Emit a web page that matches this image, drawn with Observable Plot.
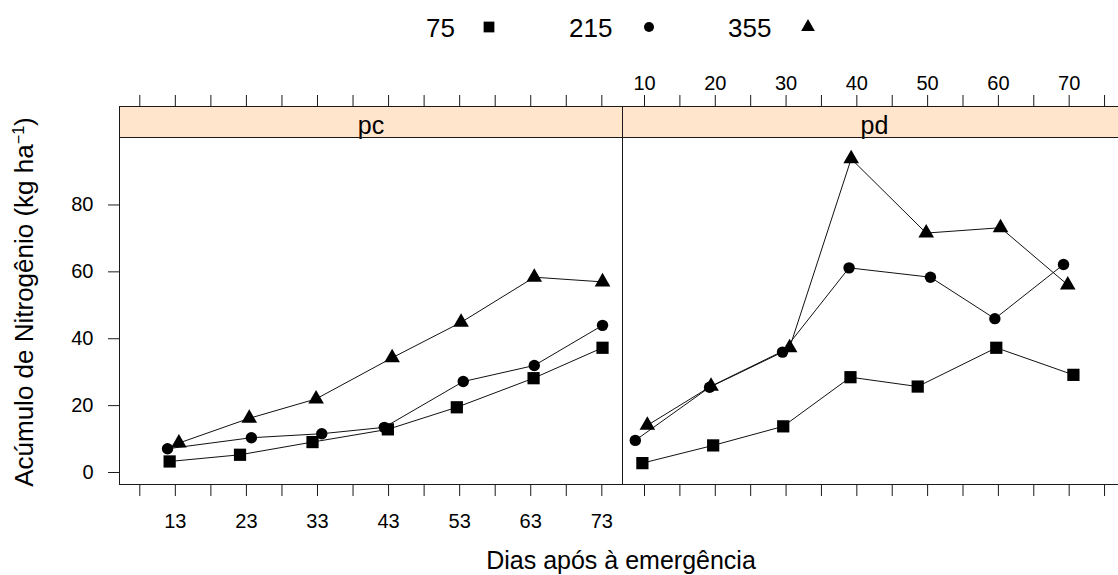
<!DOCTYPE html>
<html><head><meta charset="utf-8">
<script src="https://cdn.jsdelivr.net/npm/d3@7"></script>
<script src="https://cdn.jsdelivr.net/npm/@observablehq/plot@0.6"></script>
<style>
body{margin:0;background:#fff;font-family:"Liberation Sans",Arial,sans-serif;color:#000;}
#wrap{position:relative;width:1118px;height:575px;overflow:hidden;background:#fff;}
.abs{position:absolute;white-space:nowrap;}
.strip{position:absolute;top:106px;height:32px;background:#FFE5CC;border:1px solid #1a1a1a;box-sizing:border-box;font-size:25px;text-align:center;line-height:36px;}
.leg{position:absolute;top:15px;font-size:26px;line-height:26px;}
</style></head><body>
<div id="wrap"></div>
<script>
// ---- data ----
const panels = ["pc", "pd"];
const doses = ["75", "215", "355"];
const doseSymbols = ["square", "circle", "triangle"];

const pcDays75  = [12.2, 22.1, 32.3, 42.9, 52.6, 63.4, 73.1];
const pcDays215 = [11.9, 23.7, 33.6, 42.4, 53.5, 63.5, 73.1];
const pcDays355 = [13.5, 23.4, 32.8, 43.5, 53.2, 63.5, 73.1];
const pcN75  = [3.3, 5.3, 9.1, 12.9, 19.5, 28.2, 37.3];
const pcN215 = [7.1, 10.4, 11.6, 13.5, 27.2, 32.0, 44.0];
const pcN355 = [8.8, 16.2, 22.0, 34.3, 44.9, 58.4, 57.0];

const pdDays75  = [9.7, 19.7, 29.6, 39.1, 48.6, 59.7, 70.6];
const pdDays215 = [8.7, 19.2, 29.5, 38.9, 50.4, 59.5, 69.2];
const pdDays355 = [10.4, 19.4, 30.5, 39.2, 49.8, 60.3, 69.8];
const pdN75  = [2.8, 8.1, 13.8, 28.5, 25.7, 37.3, 29.2];
const pdN215 = [9.6, 25.5, 36.0, 61.2, 58.4, 46.0, 62.2];
const pdN355 = [14.1, 25.8, 37.3, 93.8, 71.6, 73.2, 56.1];

const pcTicks = [8, 13, 18, 23, 28, 33, 38, 43, 48, 53, 58, 63, 68, 73];
const pcTickLabels = [13, 23, 33, 43, 53, 63, 73];
const pdTicks = [10, 15, 20, 25, 30, 35, 40, 45, 50, 55, 60, 65, 70, 75];
const pdTickLabels = [10, 20, 30, 40, 50, 60, 70];
const yTicks = [0, 20, 40, 60, 80];

const xLabel = "Dias após à emergência";
const yLabelMain = "Acúmulo de Nitrogênio (kg ha";
const yLabelSup = "−1";

// ---- build rows ----
function rows(days, vals, dose) { return days.map((d, i) => ({day: d, n: vals[i], dose})); }
const pcRows = [...rows(pcDays75, pcN75, doses[0]), ...rows(pcDays215, pcN215, doses[1]), ...rows(pcDays355, pcN355, doses[2])];
const pdRows = [...rows(pdDays75, pdN75, doses[0]), ...rows(pdDays215, pdN215, doses[1]), ...rows(pdDays355, pdN355, doses[2])];

const symR = {square: 6.9, circle: 5.7, triangle: 5.8};
const font = '"Liberation Sans", Arial, sans-serif';
const yDomain = [-3.59, 100.18];

function seriesMarks(data) {
  const m = [Plot.line(data, {x: "day", y: "n", z: "dose", stroke: "#111", strokeWidth: 1})];
  doses.forEach((d, i) => {
    m.push(Plot.dot(data.filter(r => r.dose === d), {x: "day", y: "n", symbol: doseSymbols[i], r: symR[doseSymbols[i]], fill: "#000", stroke: "none"}));
  });
  return m;
}

const wrap = document.getElementById("wrap");

// strips
[[panels[0], 119, 504], [panels[1], 622, 505]].forEach(([name, left, w]) => {
  const s = document.createElement("div");
  s.className = "strip"; s.style.left = left + "px"; s.style.width = w + "px";
  s.textContent = name;
  wrap.appendChild(s);
});

// pc panel
const pc = Plot.plot({
  width: 623, height: 575,
  marginLeft: 119, marginRight: 1, marginTop: 137, marginBottom: 91,
  style: {fontSize: "20px", fontFamily: font, background: "transparent", color: "#000", overflow: "visible"},
  x: {domain: [5.144, 75.91], label: null},
  y: {domain: yDomain, label: null},
  marks: [
    Plot.axisY({ticks: yTicks, tickSize: 11, tickPadding: 15, label: null, stroke: "#1a1a1a"}),
    Plot.axisX({anchor: "bottom", ticks: pcTicks, tickSize: 12, tickPadding: 17, label: null, stroke: "#1a1a1a",
      tickFormat: d => pcTickLabels.includes(d) ? String(d) : ""}),
    Plot.axisX({anchor: "top", ticks: pcTicks, tickSize: 12, label: null, dy: -31, stroke: "#1a1a1a", tickFormat: () => ""}),
    ...seriesMarks(pcRows),
    Plot.frame({stroke: "#1a1a1a"})
  ]
});
pc.style.position = "absolute"; pc.style.left = "0px"; pc.style.top = "0px";
wrap.appendChild(pc);

// pd panel
const pd = Plot.plot({
  width: 504, height: 575,
  marginLeft: 0, marginRight: 0, marginTop: 137, marginBottom: 91,
  style: {fontSize: "20px", fontFamily: font, background: "transparent", color: "#000", overflow: "visible"},
  x: {domain: [6.89, 78.1], label: null},
  y: {domain: yDomain, label: null, axis: null},
  marks: [
    Plot.axisX({anchor: "bottom", ticks: pdTicks, tickSize: 12, label: null, stroke: "#1a1a1a", tickFormat: () => ""}),
    Plot.axisX({anchor: "top", ticks: pdTicks, tickSize: 12, tickPadding: 5, label: null, dy: -31, stroke: "#1a1a1a",
      tickFormat: d => pdTickLabels.includes(d) ? String(d) : ""}),
    ...seriesMarks(pdRows),
    Plot.frame({stroke: "#1a1a1a"})
  ]
});
pd.style.position = "absolute"; pd.style.left = "622px"; pd.style.top = "0px";
wrap.appendChild(pd);

// legend
const legPos = [[426, 489], [569, 649], [728, 808]];
const d3sym = {square: d3.symbolSquare, circle: d3.symbolCircle, triangle: d3.symbolTriangle};
doses.forEach((d, i) => {
  const t = document.createElement("div");
  t.className = "leg"; t.style.left = legPos[i][0] + "px"; t.textContent = d;
  wrap.appendChild(t);
  const sym = doseSymbols[i];
  const svg = d3.create("svg").attr("width", 20).attr("height", 20)
    .style("position", "absolute").style("left", (legPos[i][1] - 10) + "px").style("top", (27 - 10) + "px");
  const r = symR[sym] * 0.88;
  svg.append("path").attr("transform", "translate(10,10)")
    .attr("d", d3.symbol().type(d3sym[sym]).size(Math.PI * r * r)()).attr("fill", "#000");
  wrap.appendChild(svg.node());
});

// axis titles
const xt = document.createElement("div");
xt.className = "abs"; xt.style.cssText += "left:371px;width:500px;top:547px;text-align:center;font-size:25px;line-height:26px;";
xt.textContent = xLabel;
wrap.appendChild(xt);

const yt = document.createElement("div");
yt.className = "abs";
yt.style.cssText += "left:-176px;top:289px;width:400px;height:26px;text-align:center;font-size:26px;line-height:26px;transform:rotate(-90deg);transform-origin:200px 13px;";
yt.innerHTML = yLabelMain + '<sup style="font-size:0.62em;line-height:0;vertical-align:0.55em">' + yLabelSup + '</sup>)';
wrap.appendChild(yt);
</script>
</body></html>
